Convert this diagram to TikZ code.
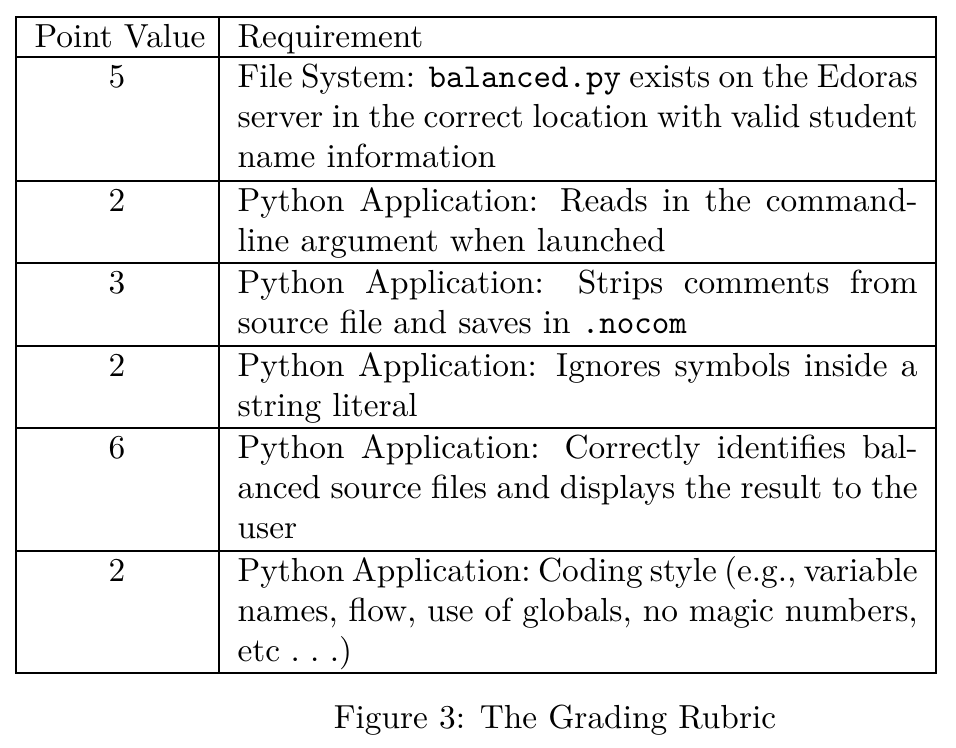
\documentclass[tikz,border=0pt]{standalone}
\begin{document}
\begin{tikzpicture}[x=0.3pt,y=-0.3pt,
  rule/.style={line width=0.4pt},
  req/.style={anchor=north west,inner sep=0pt,text width=204pt,align=justify},
  pts/.style={anchor=north,inner sep=0pt}]
\useasboundingbox (0,0) rectangle (956,747);
% rules
\coordinate (tl) at (16,17); \coordinate (tr) at (936,17);
\coordinate (bl) at (16,673); \coordinate (br) at (936,673);
\coordinate (mt) at (219,17); \coordinate (mb) at (219,673);
\draw[rule] (tl) rectangle (br);
\draw[rule] (mt) -- (mb);
\foreach \y in {57,181,263,346,428,551}{\draw[rule] (16,\y) -- (936,\y);}
% header
\node[anchor=north west,inner sep=0pt] (hp) at (34,19) {\strut Point Value};
\node[req] (hr) at (237,19) {\strut Requirement};
% rows
\node[pts] (p1) at (117,59) {\strut 5};
\node[req] (r1) at (237,59) {\strut File System: \texttt{balanced.py} exists on the Edoras\linebreak server in the correct location with valid student\linebreak name information};
\node[pts] (p2) at (117,183) {\strut 2};
\node[req] (r2) at (237,183) {\strut Python Application: Reads in the command-\linebreak line argument when launched};
\node[pts] (p3) at (117,265) {\strut 3};
\node[req] (r3) at (237,265) {\strut Python Application: Strips comments from\linebreak source file and saves in \texttt{.nocom}};
\node[pts] (p4) at (117,348) {\strut 2};
\node[req] (r4) at (237,348) {\strut Python Application: Ignores symbols inside a\linebreak string literal};
\node[pts] (p5) at (117,430) {\strut 6};
\node[req] (r5) at (237,430) {\strut Python Application: Correctly identifies bal-\linebreak anced source files and displays the result to the\linebreak user};
\node[pts] (p6) at (117,553) {\strut 2};
\node[req] (r6) at (237,553) {\frenchspacing\hyphenpenalty=10000\tolerance=10000\spaceskip=3.1pt plus 2pt minus 1.2pt\strut Python Application: Coding style (e.g., variable\linebreak names, flow, use of globals, no magic numbers,\linebreak etc .\ .\ .)};
\node[inner sep=0pt] (cap) at (555,720) {Figure 3: The Grading Rubric};
\end{tikzpicture}
\end{document}
